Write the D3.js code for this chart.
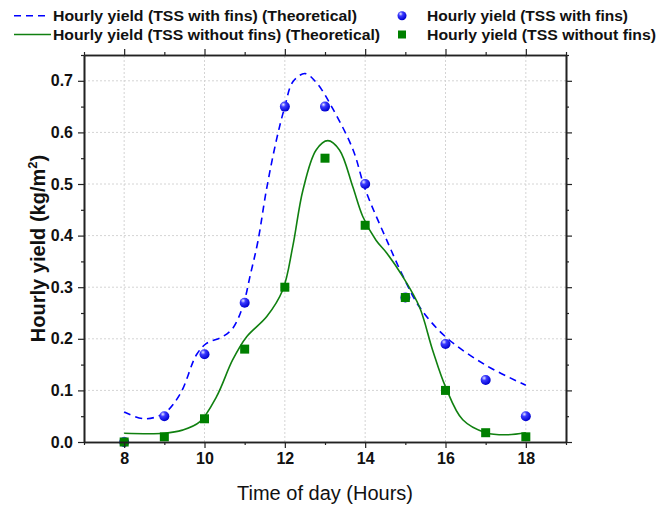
<!DOCTYPE html>
<html><head><meta charset="utf-8">
<script src="https://cdn.jsdelivr.net/npm/d3@7"></script>
<style>body{margin:0;background:#fff}svg{display:block}</style>
</head><body><div id="c"></div>
<script>
// Data
const hours = [8,9,10,11,12,13,14,15,16,17,18];
const withFins = [0.0,0.05,0.17,0.27,0.65,0.65,0.50,0.28,0.19,0.12,0.05];
const withoutFins = [0.0,0.01,0.045,0.18,0.30,0.55,0.42,0.28,0.10,0.018,0.01];
// theoretical curves (traced)
const theoWithX = [8.0,8.5,9.0,9.4,9.8,10.05,10.45,10.7,10.95,11.15,11.33,11.54,11.79,12.0,12.2,12.5,12.8,13.2,13.7,14.0,14.6,14.95,15.35,16.0,17.0,18.0];
const theoWithY = [0.058,0.045,0.056,0.094,0.169,0.191,0.204,0.22,0.262,0.327,0.389,0.488,0.585,0.65,0.698,0.714,0.695,0.645,0.566,0.49,0.38,0.32,0.262,0.204,0.149,0.11];
const theoWithoutX = [8.0,9.0,9.45,9.88,10.3,10.7,11.05,11.55,11.95,12.2,12.45,12.78,13.07,13.36,13.69,13.94,14.27,14.55,14.94,15.35,15.68,16.0,16.43,17.0,17.5,18.0];
const theoWithoutY = [0.017,0.017,0.023,0.039,0.088,0.159,0.204,0.243,0.295,0.38,0.488,0.566,0.584,0.566,0.495,0.437,0.391,0.365,0.32,0.262,0.178,0.107,0.043,0.018,0.014,0.018];
const xTicks = [8,10,12,14,16,18];
const yTicks = [0.0,0.1,0.2,0.3,0.4,0.5,0.6,0.7];
const legendLabels = ["Hourly yield (TSS with fins) (Theoretical)","Hourly yield (TSS without fins) (Theoretical)","Hourly yield (TSS with fins)","Hourly yield (TSS without fins)"];

const W=661,H=509;
const m={l:84,r:95,t:55,b:67};
const svg=d3.select("#c").append("svg").attr("width",W).attr("height",H);
const x=d3.scaleLinear().domain([7,19]).range([m.l,W-m.r]);
const y=d3.scaleLinear().domain([0,0.75]).range([H-m.b,m.t]);
const x0=x.range()[0],x1=x.range()[1],y0=y.range()[0],y1=y.range()[1];

const defs=svg.append("defs");
const rg=defs.append("radialGradient").attr("id","ball").attr("cx","35%").attr("cy","30%").attr("r","70%");
rg.append("stop").attr("offset","0%").attr("stop-color","#e8e8ff");
rg.append("stop").attr("offset","35%").attr("stop-color","#3a3aff");
rg.append("stop").attr("offset","100%").attr("stop-color","#0000d0");
defs.append("clipPath").attr("id","clip").append("rect").attr("x",x0).attr("y",y1).attr("width",x1-x0).attr("height",y0-y1);

// grid
const g=svg.append("g");
g.selectAll(".gx").data(xTicks).join("line").attr("x1",d=>x(d)).attr("x2",d=>x(d)).attr("y1",y0).attr("y2",y1)
 .attr("stroke","#d4d4d4").attr("stroke-dasharray","2,2").attr("stroke-width",1);
g.selectAll(".gy").data(yTicks.filter(d=>d>0)).join("line").attr("y1",d=>y(d)).attr("y2",d=>y(d)).attr("x1",x0).attr("x2",x1)
 .attr("stroke","#d4d4d4").attr("stroke-dasharray","2,2").attr("stroke-width",1);

// curves
const line=d3.line().x(d=>x(d[0])).y(d=>y(d[1])).curve(d3.curveCatmullRom.alpha(0.5));
const plot=svg.append("g").attr("clip-path","url(#clip)");
plot.append("path").datum(theoWithX.map((v,i)=>[v,theoWithY[i]])).attr("d",line)
 .attr("fill","none").attr("stroke","#0000ff").attr("stroke-width",1.6).attr("stroke-dasharray","7,5");
plot.append("path").datum(theoWithoutX.map((v,i)=>[v,theoWithoutY[i]])).attr("d",line)
 .attr("fill","none").attr("stroke","#108010").attr("stroke-width",1.6);

// points
svg.append("g").selectAll("circle").data(hours.map((h,i)=>[h,withFins[i]])).join("circle")
 .attr("cx",d=>x(d[0])).attr("cy",d=>y(d[1])).attr("r",5).attr("fill","url(#ball)");
const s=9;
svg.append("g").selectAll("rect").data(hours.map((h,i)=>[h,withoutFins[i]])).join("rect")
 .attr("x",d=>x(d[0])-s/2).attr("y",d=>y(d[1])-s/2).attr("width",s).attr("height",s).attr("fill","#008000");

// axes
const fmt=d3.format(".1f");
const minorX=[7,9,11,13,15,17,19], minorY=[0.05,0.15,0.25,0.35,0.45,0.55,0.65,0.75];
const axB=svg.append("g").attr("transform",`translate(0,${y0})`)
 .call(d3.axisBottom(x).tickValues(xTicks).tickSize(6).tickSizeOuter(0).tickPadding(5));
axB.append("g").call(d3.axisBottom(x).tickValues(minorX).tickSize(3).tickSizeOuter(0).tickFormat(""));
const axL=svg.append("g").attr("transform",`translate(${x0},0)`)
 .call(d3.axisLeft(y).tickValues(yTicks).tickFormat(fmt).tickSize(6).tickSizeOuter(0).tickPadding(5));
axL.append("g").call(d3.axisLeft(y).tickValues(minorY).tickSize(3).tickSizeOuter(0).tickFormat(""));
const axT=svg.append("g").attr("transform",`translate(0,${y1})`)
 .call(d3.axisTop(x).tickValues(xTicks).tickSize(6).tickSizeOuter(0).tickFormat(""));
axT.append("g").call(d3.axisTop(x).tickValues(minorX).tickSize(3).tickSizeOuter(0).tickFormat(""));
const axR=svg.append("g").attr("transform",`translate(${x1},0)`)
 .call(d3.axisRight(y).tickValues(yTicks).tickSize(6).tickSizeOuter(0).tickFormat(""));
axR.append("g").call(d3.axisRight(y).tickValues(minorY).tickSize(3).tickSizeOuter(0).tickFormat(""));
svg.selectAll(".domain").attr("stroke","#222").attr("stroke-width",1.6);
svg.selectAll(".tick line").attr("stroke","#222").attr("stroke-width",1.2);
svg.selectAll(".tick text").attr("font-family","Liberation Sans, Arial, sans-serif").attr("font-size",16).attr("font-weight","bold").attr("fill","#111");

// titles
svg.append("text").attr("x",(x0+x1)/2).attr("y",500).attr("text-anchor","middle")
 .attr("font-family","Liberation Sans, Arial, sans-serif").attr("font-size",20).attr("fill","#111").text("Time of day (Hours)");
const yt=svg.append("text").attr("transform",`translate(45,${(y0+y1)/2}) rotate(-90)`).attr("text-anchor","middle")
 .attr("font-family","Liberation Sans, Arial, sans-serif").attr("font-size",20).attr("font-weight","bold").attr("fill","#111");
yt.append("tspan").text("Hourly yield (kg/m");
yt.append("tspan").attr("font-size",13).attr("dy",-8).text("2");
yt.append("tspan").attr("dy",8).text(")");

// legend
const lg=svg.append("g").attr("font-family","Liberation Sans, Arial, sans-serif").attr("font-size",14.5).attr("font-weight","bold").attr("fill","#111");
const rows=[20.7,39.5];
lg.append("line").attr("x1",14).attr("x2",50).attr("y1",rows[0]-5).attr("y2",rows[0]-5).attr("stroke","#0000ff").attr("stroke-width",1.6).attr("stroke-dasharray","7,5");
lg.append("line").attr("x1",14).attr("x2",51).attr("y1",rows[1]-5).attr("y2",rows[1]-5).attr("stroke","#108010").attr("stroke-width",1.6);
lg.append("circle").attr("cx",402).attr("cy",rows[0]-5).attr("r",4.5).attr("fill","url(#ball)");
lg.append("rect").attr("x",398).attr("y",rows[1]-9).attr("width",8).attr("height",8).attr("fill","#008000");
const lpos=[[53,rows[0],304],[53,rows[1],327],[427,rows[0],201],[427,rows[1],229]];
lpos.forEach((p,i)=>{
  lg.append("text").attr("x",p[0]).attr("y",p[1]).attr("textLength",p[2]).attr("lengthAdjust","spacingAndGlyphs").text(legendLabels[i]);
});
</script></body></html>
